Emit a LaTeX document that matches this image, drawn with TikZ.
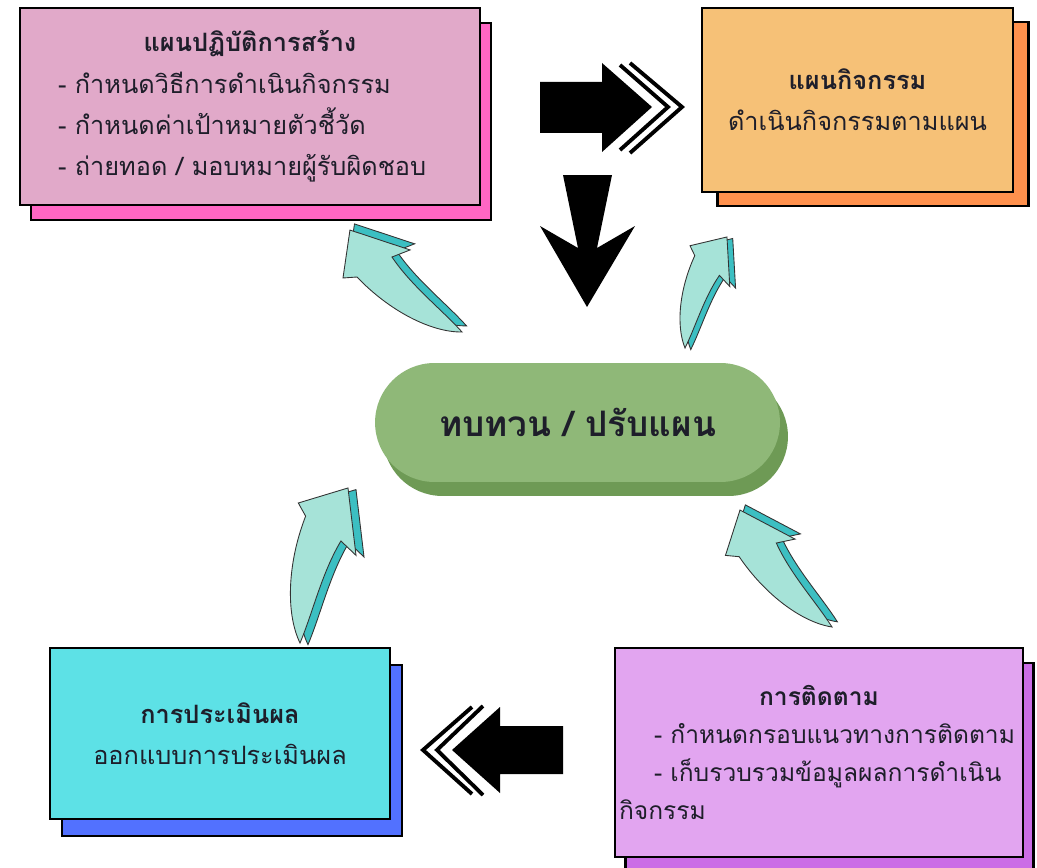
\documentclass[tikz,border=0pt]{standalone}
\usepackage{fontspec}
\setmainfont{Loma}[Script=Thai]
\usetikzlibrary{shadows}

\definecolor{textcol}{HTML}{1E1E2A}
\definecolor{pinkfront}{HTML}{E1A9C9}
\definecolor{pinkshade}{HTML}{FF66C4}
\definecolor{orangefront}{HTML}{F6C177}
\definecolor{orangeshade}{HTML}{FF914D}
\definecolor{cyanfront}{HTML}{5DE1E6}
\definecolor{cyanshade}{HTML}{5271FF}
\definecolor{violetfront}{HTML}{E2A5F0}
\definecolor{violetshade}{HTML}{CB6CE6}
\definecolor{pillfront}{HTML}{8FB878}
\definecolor{pillshade}{HTML}{6E9A55}
\definecolor{teallight}{HTML}{A6E3D8}
\definecolor{tealdark}{HTML}{3CBFC2}

\tikzset{
  curlyarrow/.pic={
    \path[fill=tealdark, draw=black!80, line width=0.5pt, shift={(5,0.5)}]
      (0,0) .. controls (-14,15) and (-22,45) .. (-19.8,75.7)
      -- (-26.5,82.1) -- (0,100) -- (17,61.8) -- (5.5,67.5)
      .. controls (0,45) and (2,20) .. cycle;
    \path[fill=teallight, draw=black!80, line width=0.5pt]
      (0,0) .. controls (-14,15) and (-22,45) .. (-19.8,75.7)
      -- (-26.5,82.1) -- (0,100) -- (17,61.8) -- (5.5,67.5)
      .. controls (0,45) and (2,20) .. cycle;
  }
}

\begin{document}
\begin{tikzpicture}[
    x=0.02cm, y=0.02cm,
    box/.style={rectangle, draw=black, line width=1.6pt, inner sep=0pt,
      align=center, text=textcol, font=\fontsize{14.4}{23.5}\selectfont},
    chevron/.style={draw=black, line width=2.2pt},
    ]
    \fill[white] (0,0) rectangle (1037,867);
    \clip (0,0) rectangle (1037,867);

    \node[box, fill=pinkfront, minimum width=9.2cm, minimum height=3.94cm,
      text width=7.68cm, align=left,
      copy shadow={shadow xshift=0.22cm, shadow yshift=-0.3cm, fill=pinkshade, draw=black, line width=1.6pt}]
      (plan) at (250,760.5) {\makebox[\linewidth]{\bfseries แผนปฏิบัติการสร้าง}\\- กำหนดวิธีการดำเนินกิจกรรม\\- กำหนดค่าเป้าหมายตัวชี้วัด\\- ถ่ายทอด / มอบหมายผู้รับผิดชอบ};
    \node[box, fill=orangefront, minimum width=6.22cm, minimum height=3.68cm,
      copy shadow={shadow xshift=0.31cm, shadow yshift=-0.28cm, fill=orangeshade, draw=black, line width=1.6pt}]
      (activity) at (857.5,767) {\textbf{แผนกิจกรรม}\\ดำเนินกิจกรรมตามแผน};
    \node[box, fill=cyanfront, minimum width=6.8cm, minimum height=3.42cm,
      copy shadow={shadow xshift=0.24cm, shadow yshift=-0.34cm, fill=cyanshade, draw=black, line width=1.6pt}]
      (evaluation) at (220,133.5) {\textbf{การประเมินผล}\\ออกแบบการประเมินผล};
    \node[box, fill=violetfront, minimum width=8.16cm, minimum height=4.18cm,
      text width=8.0cm, align=left, font=\fontsize{14}{21.5}\selectfont,
      copy shadow={shadow xshift=0.21cm, shadow yshift=-0.3cm, fill=violetshade, draw=black, line width=1.6pt}]
      (monitor) at (819,114.5) {\makebox[\linewidth]{\bfseries การติดตาม}\\\hspace*{0.7cm}\mbox{- กำหนดกรอบแนวทางการติดตาม}\\\hspace*{0.7cm}\mbox{- เก็บรวบรวมข้อมูลผลการดำเนิน}\\กิจกรรม};
    \node[fill=pillfront, rounded corners=1.19cm, minimum width=8.1cm, minimum height=2.38cm,
      text=textcol, font=\bfseries\fontsize{20}{24}\selectfont,
      copy shadow={shadow xshift=0.16cm, shadow yshift=-0.28cm, fill=pillshade, draw=none}]
      (review) at (577.5,444.5) {ทบทวน / ปรับแผน};

    \fill[black] (540,734) -- (540,785) -- (602,785) -- (602,804) -- (652,760)
      -- (602,715) -- (602,734) -- cycle;
    \draw[chevron] (620,802) -- (668,760) -- (620,717);
    \draw[chevron] (630,804) -- (682,760) -- (630,714);

    \fill[black] (563,692) -- (612,692) -- (597,619) -- (635,641) -- (587,560)
      -- (540,641) -- (578,619) -- cycle;

    \fill[black] (563,93) -- (563,141) -- (500,141) -- (500,160) -- (452,117)
      -- (500,74) -- (500,93) -- cycle;
    \draw[chevron] (483,161) -- (437,117) -- (483,72);
    \draw[chevron] (472,160) -- (423,117) -- (472,73);

    \pic[rotate=47.7, scale=1.515] at (462,535) {curlyarrow};
    \pic[rotate=-20.7, scale=1.187] at (685,519) {curlyarrow};
    \pic[rotate=-17.2, scale=1.623] at (300,224) {curlyarrow};
    \pic[rotate=38.2, scale=1.488] at (832,240) {curlyarrow};
\end{tikzpicture}
\end{document}
